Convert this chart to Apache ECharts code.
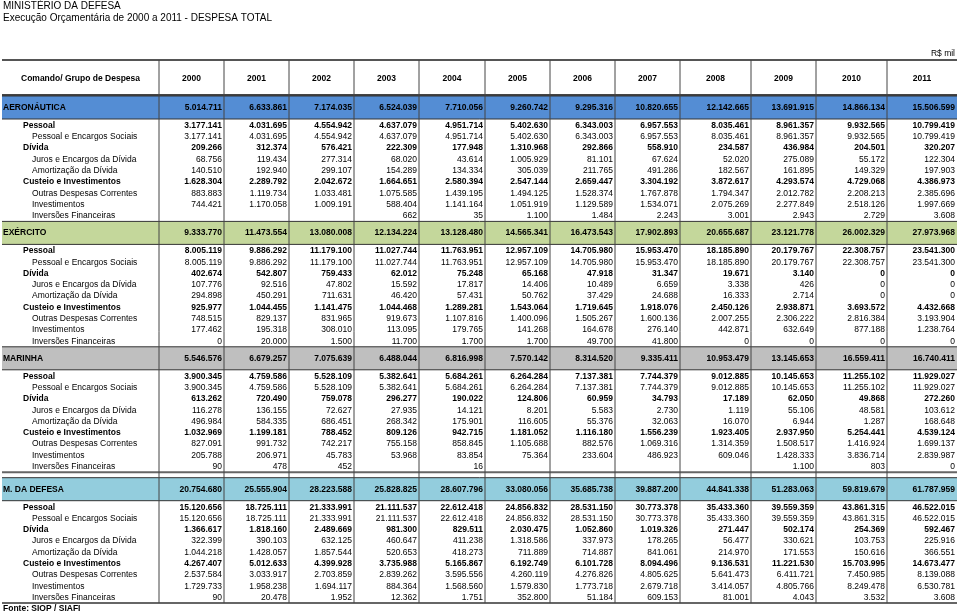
<!DOCTYPE html>
<html><head><meta charset="utf-8">
<script src="https://cdn.jsdelivr.net/npm/echarts@6/dist/echarts.min.js"></script>
<style>html,body{margin:0;padding:0;background:#fff}#c{width:960px;height:614px}</style>
</head><body><div id="c"></div>
<script>
// ---------------- DATA (R$ mil) ----------------
const titleLine1 = 'MINISTÉRIO DA DEFESA';
const titleLine2 = 'Execução Orçamentária de 2000 a 2011 - DESPESA TOTAL';
const unitLabel = 'R$ mil';
const sourceLabel = 'Fonte: SIOP / SIAFI';
const headerLabel = 'Comando/ Grupo de Despesa';
const years = ['2000','2001','2002','2003','2004','2005','2006','2007','2008','2009','2010','2011'];
const rowLabels = ['Pessoal','Pessoal e Encargos Sociais','Dívida','Juros e Encargos da Dívida','Amortização da Dívida','Custeio e Investimentos','Outras Despesas Correntes','Investimentos','Inversões Financeiras'];
const groupRowIdx = [0, 2, 5];
const sectionNames = ['AERONÁUTICA','EXÉRCITO','MARINHA','M. DA DEFESA'];

const aeronauticaTotal = [5014711,6633861,7174035,6524039,7710056,9260742,9295316,10820655,12142665,13691915,14866134,15506599];
const aeronautica = [
  [3177141,4031695,4554942,4637079,4951714,5402630,6343003,6957553,8035461,8961357,9932565,10799419],
  [3177141,4031695,4554942,4637079,4951714,5402630,6343003,6957553,8035461,8961357,9932565,10799419],
  [209266,312374,576421,222309,177948,1310968,292866,558910,234587,436984,204501,320207],
  [68756,119434,277314,68020,43614,1005929,81101,67624,52020,275089,55172,122304],
  [140510,192940,299107,154289,134334,305039,211765,491286,182567,161895,149329,197903],
  [1628304,2289792,2042672,1664651,2580394,2547144,2659447,3304192,3872617,4293574,4729068,4386973],
  [883883,1119734,1033481,1075585,1439195,1494125,1528374,1767878,1794347,2012782,2208213,2385696],
  [744421,1170058,1009191,588404,1141164,1051919,1129589,1534071,2075269,2277849,2518126,1997669],
  [null,null,null,662,35,1100,1484,2243,3001,2943,2729,3608]
];
const exercitoTotal = [9333770,11473554,13080008,12134224,13128480,14565341,16473543,17902893,20655687,23121778,26002329,27973968];
const exercito = [
  [8005119,9886292,11179100,11027744,11763951,12957109,14705980,15953470,18185890,20179767,22308757,23541300],
  [8005119,9886292,11179100,11027744,11763951,12957109,14705980,15953470,18185890,20179767,22308757,23541300],
  [402674,542807,759433,62012,75248,65168,47918,31347,19671,3140,0,0],
  [107776,92516,47802,15592,17817,14406,10489,6659,3338,426,0,0],
  [294898,450291,711631,46420,57431,50762,37429,24688,16333,2714,0,0],
  [925977,1044455,1141475,1044468,1289281,1543064,1719645,1918076,2450126,2938871,3693572,4432668],
  [748515,829137,831965,919673,1107816,1400096,1505267,1600136,2007255,2306222,2816384,3193904],
  [177462,195318,308010,113095,179765,141268,164678,276140,442871,632649,877188,1238764],
  [0,20000,1500,11700,1700,1700,49700,41800,0,0,0,0]
];
const marinhaTotal = [5546576,6679257,7075639,6488044,6816998,7570142,8314520,9335411,10953479,13145653,16559411,16740411];
const marinha = [
  [3900345,4759586,5528109,5382641,5684261,6264284,7137381,7744379,9012885,10145653,11255102,11929027],
  [3900345,4759586,5528109,5382641,5684261,6264284,7137381,7744379,9012885,10145653,11255102,11929027],
  [613262,720490,759078,296277,190022,124806,60959,34793,17189,62050,49868,272260],
  [116278,136155,72627,27935,14121,8201,5583,2730,1119,55106,48581,103612],
  [496984,584335,686451,268342,175901,116605,55376,32063,16070,6944,1287,168648],
  [1032969,1199181,788452,809126,942715,1181052,1116180,1556239,1923405,2937950,5254441,4539124],
  [827091,991732,742217,755158,858845,1105688,882576,1069316,1314359,1508517,1416924,1699137],
  [205788,206971,45783,53968,83854,75364,233604,486923,609046,1428333,3836714,2839987],
  [90,478,452,null,16,null,null,null,null,1100,803,0]
];
const defesaTotal = [20754680,25555904,28223588,25828825,28607796,33080056,35685738,39887200,44841338,51283063,59819679,61787959];
const defesa = [
  [15120656,18725111,21333991,21111537,22612418,24856832,28531150,30773378,35433360,39559359,43861315,46522015],
  [15120656,18725111,21333991,21111537,22612418,24856832,28531150,30773378,35433360,39559359,43861315,46522015],
  [1366617,1818160,2489669,981300,829511,2030475,1052860,1019326,271447,502174,254369,592467],
  [322399,390103,632125,460647,411238,1318586,337973,178265,56477,330621,103753,225916],
  [1044218,1428057,1857544,520653,418273,711889,714887,841061,214970,171553,150616,366551],
  [4267407,5012633,4399928,3735988,5165867,6192749,6101728,8094496,9136531,11221530,15703995,14673477],
  [2537584,3033917,2703859,2839262,3595556,4260119,4276826,4805625,5641473,6411721,7450985,8139088],
  [1729733,1958238,1694117,884364,1568560,1579830,1773718,2679718,3414057,4805766,8249478,6530781],
  [90,20478,1952,12362,1751,352800,51184,609153,81001,4043,3532,3608]
];
const sectionTotals = [aeronauticaTotal, exercitoTotal, marinhaTotal, defesaTotal];
const sectionRows = [aeronautica, exercito, marinha, defesa];

// ---------------- LAYOUT (code, not data) ----------------
const FONT = '"Liberation Sans", Arial, Helvetica, sans-serif';
const bandColors = ['#548DD4', '#C4D79B', '#BFBFBF', '#93CDDD'];
const tableLeft = 2, tableRight = 957;
const colEdges = [159,224,289,354,419,485,550,615,680,751,816,887,957];
const headerTop = 60, headerBottom = 95;
const bandH = 23, rowStep = 11.3;
const FS = 8.5;

const fmt = v => v == null ? '' : String(v).replace(/\B(?=(\d{3})+(?!\d))/g, '.');

const texts = [], lines = [], bands = [];
texts.push({x:3, y:6.5, t:titleLine1, a:'left', b:false, s:10});
texts.push({x:3, y:18.5, t:titleLine2, a:'left', b:false, s:10});
texts.push({x:955, y:54, t:unitLabel, a:'right', b:false, s:FS});
texts.push({x:(tableLeft+colEdges[0])/2, y:78.5, t:headerLabel, a:'center', b:true, s:FS});
years.forEach((yr,i)=>texts.push({x:(colEdges[i]+colEdges[i+1])/2, y:78.5, t:yr, a:'center', b:true, s:FS}));

lines.push({x1:tableLeft, y1:headerTop, x2:tableRight, y2:headerTop, w:2, c:'#555'});
lines.push({x1:tableLeft, y1:headerBottom, x2:tableRight, y2:headerBottom, w:2, c:'#444'});

let y = 96;
let lastRowY = 0;
sectionNames.forEach((name, s) => {
  let top = y;
  if (s === sectionNames.length - 1) {
    lines.push({x1:tableLeft, y1:top, x2:tableRight, y2:top, w:2, c:'#666'});
    top += 5.5;
  }
  bands.push({y0:top, y1:top+bandH, c:bandColors[s]});
  lines.push({x1:tableLeft, y1:top, x2:tableRight, y2:top, w:1, c:'#333'});
  lines.push({x1:tableLeft, y1:top+bandH, x2:tableRight, y2:top+bandH, w:1, c:'#333'});
  const cy = top + bandH/2;
  texts.push({x:3, y:cy, t:name, a:'left', b:true, s:FS});
  sectionTotals[s].forEach((v,i)=>texts.push({x:colEdges[i+1]-2, y:cy, t:fmt(v), a:'right', b:true, s:FS}));
  rowLabels.forEach((lab, r) => {
    const ry = top + bandH + 6.5 + r*rowStep;
    const bold = groupRowIdx.includes(r);
    texts.push({x: bold ? 23 : 32, y:ry, t:lab, a:'left', b:bold, s:FS});
    sectionRows[s][r].forEach((v,i)=>texts.push({x:colEdges[i+1]-2, y:ry, t:fmt(v), a:'right', b:bold, s:FS}));
    lastRowY = ry;
  });
  y = lastRowY + 5.5;
});
const bottomY = lastRowY + 5.5;
lines.push({x1:tableLeft, y1:bottomY, x2:tableRight, y2:bottomY, w:2, c:'#666'});
colEdges.slice(0, 12).forEach(x => lines.push({x1:x, y1:headerTop, x2:x, y2:bottomY, w:1, c:'#444'}));
texts.push({x:3, y:bottomY+6, t:sourceLabel, a:'left', b:true, s:FS});

// ---------------- CHART ----------------
const chart = echarts.init(document.getElementById('c'), null, {renderer:'canvas'});
chart.setOption({
  animation: false,
  grid: {left:0, right:0, top:0, bottom:0},
  xAxis: {type:'value', min:0, max:960, show:false},
  yAxis: {type:'value', min:0, max:614, inverse:true, show:false},
  series: [
    {
      type:'custom', silent:true, z:1,
      data: bands.map(b=>[tableLeft, b.y0, tableRight, b.y1]),
      renderItem: (p, api) => {
        const b = bands[p.dataIndex];
        const a = api.coord([tableLeft, b.y0]), c = api.coord([tableRight, b.y1]);
        return {type:'rect', shape:{x:a[0], y:a[1], width:c[0]-a[0], height:c[1]-a[1]}, style:{fill:b.c}};
      }
    },
    {
      type:'custom', silent:true, z:2,
      data: lines.map(l=>[l.x1, l.y1, l.x2, l.y2]),
      renderItem: (p, api) => {
        const l = lines[p.dataIndex];
        const a = api.coord([l.x1, l.y1]), c = api.coord([l.x2, l.y2]);
        return {type:'line', shape:{x1:a[0], y1:a[1], x2:c[0], y2:c[1]}, style:{stroke:l.c, lineWidth:l.w}};
      }
    },
    {
      type:'custom', silent:true, z:3,
      data: texts.map(t=>[t.x, t.y]),
      renderItem: (p, api) => {
        const t = texts[p.dataIndex];
        const a = api.coord([t.x, t.y]);
        return {type:'text', x:a[0], y:a[1], style:{text:t.t, textAlign:t.a, textVerticalAlign:'middle', font:(t.b?'bold ':'')+t.s+'px '+FONT, fill:'#000'}};
      }
    }
  ]
});
</script></body></html>
